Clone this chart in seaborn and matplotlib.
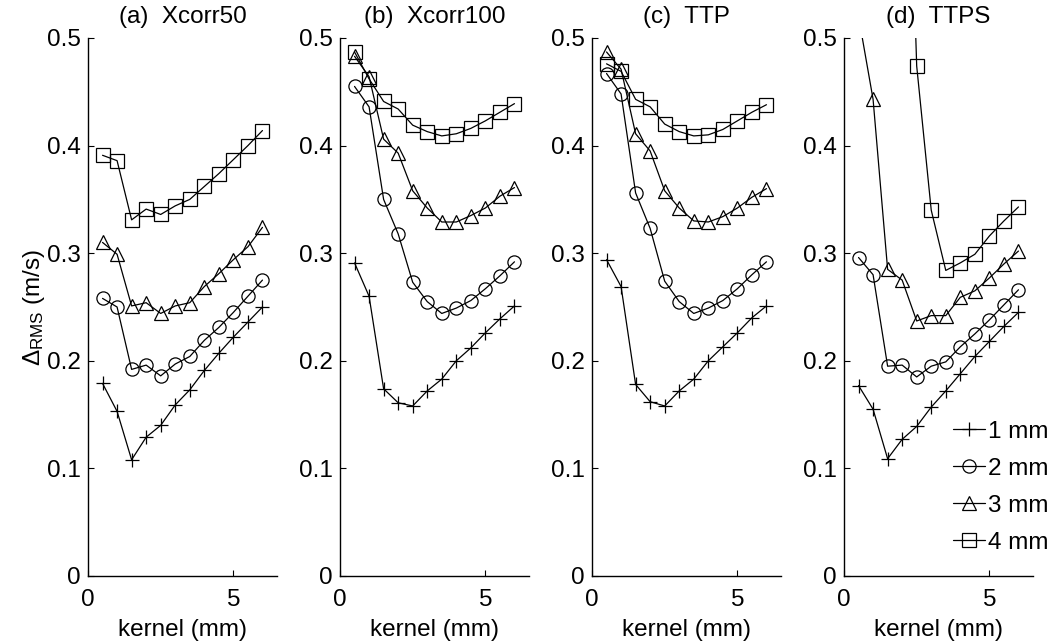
import numpy as np
import pandas as pd
import seaborn as sns
from matplotlib import pyplot as plt

kernel = [0.5, 1.0, 1.5, 2.0, 2.5, 3.0, 3.5, 4.0, 4.5, 5.0, 5.5, 6.0]
sizes = ['1 mm', '2 mm', '3 mm', '4 mm']
markers = ['+', 'o', '^', 's']
titles = ['(a)  Xcorr50', '(b)  Xcorr100', '(c)  TTP', '(d)  TTPS']

# values, one list per size
xcorr50_1 = [0.179, 0.153, 0.108, 0.129, 0.140, 0.159, 0.173, 0.191, 0.207, 0.222, 0.236, 0.250]
xcorr50_2 = [0.258, 0.250, 0.192, 0.196, 0.186, 0.197, 0.204, 0.219, 0.231, 0.245, 0.260, 0.275]
xcorr50_3 = [0.310, 0.299, 0.251, 0.254, 0.244, 0.251, 0.254, 0.269, 0.281, 0.294, 0.306, 0.324]
xcorr50_4 = [0.391, 0.386, 0.331, 0.341, 0.336, 0.344, 0.350, 0.362, 0.374, 0.387, 0.400, 0.414]

xcorr100_1 = [0.291, 0.260, 0.174, 0.161, 0.158, 0.172, 0.183, 0.200, 0.212, 0.226, 0.239, 0.251]
xcorr100_2 = [0.455, 0.436, 0.350, 0.318, 0.273, 0.255, 0.244, 0.249, 0.256, 0.267, 0.279, 0.292]
xcorr100_3 = [0.483, 0.464, 0.406, 0.393, 0.358, 0.342, 0.329, 0.329, 0.335, 0.342, 0.353, 0.361]
xcorr100_4 = [0.487, 0.462, 0.441, 0.434, 0.419, 0.413, 0.409, 0.411, 0.416, 0.423, 0.431, 0.439]

ttp_1 = [0.294, 0.269, 0.178, 0.162, 0.158, 0.172, 0.183, 0.200, 0.213, 0.226, 0.240, 0.251]
ttp_2 = [0.467, 0.448, 0.356, 0.323, 0.274, 0.255, 0.244, 0.249, 0.256, 0.267, 0.280, 0.292]
ttp_3 = [0.487, 0.471, 0.411, 0.395, 0.358, 0.342, 0.330, 0.329, 0.334, 0.342, 0.352, 0.360]
ttp_4 = [0.476, 0.469, 0.443, 0.436, 0.420, 0.413, 0.409, 0.410, 0.415, 0.423, 0.431, 0.438]

ttps_1 = [0.177, 0.155, 0.109, 0.127, 0.139, 0.157, 0.172, 0.188, 0.204, 0.218, 0.232, 0.245]
ttps_2 = [0.296, 0.280, 0.195, 0.196, 0.185, 0.195, 0.199, 0.213, 0.225, 0.238, 0.252, 0.266]
ttps_3 = [0.520, 0.443, 0.285, 0.275, 0.237, 0.242, 0.242, 0.259, 0.265, 0.277, 0.290, 0.302]
ttps_4 = [np.nan, np.nan, np.nan, 0.900, 0.474, 0.340, 0.284, 0.291, 0.299, 0.316, 0.330, 0.343]

methods = [
    [xcorr50_1, xcorr50_2, xcorr50_3, xcorr50_4],
    [xcorr100_1, xcorr100_2, xcorr100_3, xcorr100_4],
    [ttp_1, ttp_2, ttp_3, ttp_4],
    [ttps_1, ttps_2, ttps_3, ttps_4],
]

FS = 17.5

sns.set_style('ticks')
plt.rcParams['font.family'] = ['Liberation Sans', 'DejaVu Sans']
plt.rcParams['mathtext.fontset'] = 'custom'
plt.rcParams['mathtext.rm'] = 'Liberation Sans'
plt.rcParams['mathtext.it'] = 'Liberation Sans:italic'
plt.rcParams['font.size'] = FS
plt.rcParams['xtick.direction'] = 'in'
plt.rcParams['ytick.direction'] = 'in'
for key in ['text.color', 'axes.labelcolor', 'xtick.color', 'ytick.color', 'axes.edgecolor']:
    plt.rcParams[key] = 'black'

fig = plt.figure(figsize=(10.5, 6.42), dpi=100)

for i, (title, series) in enumerate(zip(titles, methods)):
    ax = fig.add_axes([(88 + 252 * i) / 1050, 66 / 642, 189 / 1050, 538 / 642])
    for s, m, vals in zip(sizes, markers, series):
        df = pd.DataFrame({'kernel': kernel, 'rms': vals}).dropna()
        sns.lineplot(data=df, x='kernel', y='rms', marker=m, color='k',
                     markersize=9.5, markerfacecolor='none', markeredgecolor='k',
                     markeredgewidth=0.9, linewidth=0.9, label=s, legend=False, ax=ax)
    ax.set_xlim(0, 6.5)
    ax.set_ylim(0, 0.5)
    ax.set_xticks([0, 5])
    ax.set_xticklabels(['0', '5'])
    ax.set_yticks([0, 0.1, 0.2, 0.3, 0.4, 0.5])
    ax.set_yticklabels(['0', '0.1', '0.2', '0.3', '0.4', '0.5'])
    ax.tick_params(labelsize=FS, length=4, width=0.8, colors='black')
    ax.tick_params(axis='x', pad=9)
    ax.tick_params(axis='y', pad=5)
    ax.set_title(title, fontsize=FS, pad=11, color='black')
    ax.set_xlabel('kernel (mm)', fontsize=FS, labelpad=6, color='black')
    if i == 0:
        ax.set_ylabel(r'$\Delta_{\mathrm{RMS}}$ (m/s)', fontsize=FS, labelpad=0, color='black')
    else:
        ax.set_ylabel('')
    for side in ['top', 'right']:
        ax.spines[side].set_visible(False)
    for side in ['left', 'bottom']:
        ax.spines[side].set_linewidth(1.0)
        ax.spines[side].set_color('black')

    if i == 3:
        ax.legend(ax.get_lines()[:4], sizes, loc='lower right', frameon=False,
                  bbox_to_anchor=(1048 / 1050, 88 / 642), bbox_transform=fig.transFigure,
                  fontsize=FS, handlelength=1.3, handletextpad=0.1,
                  labelspacing=0.62, borderpad=0, borderaxespad=0,
                  labelcolor='black')

fig.savefig('out.png', dpi=100)
